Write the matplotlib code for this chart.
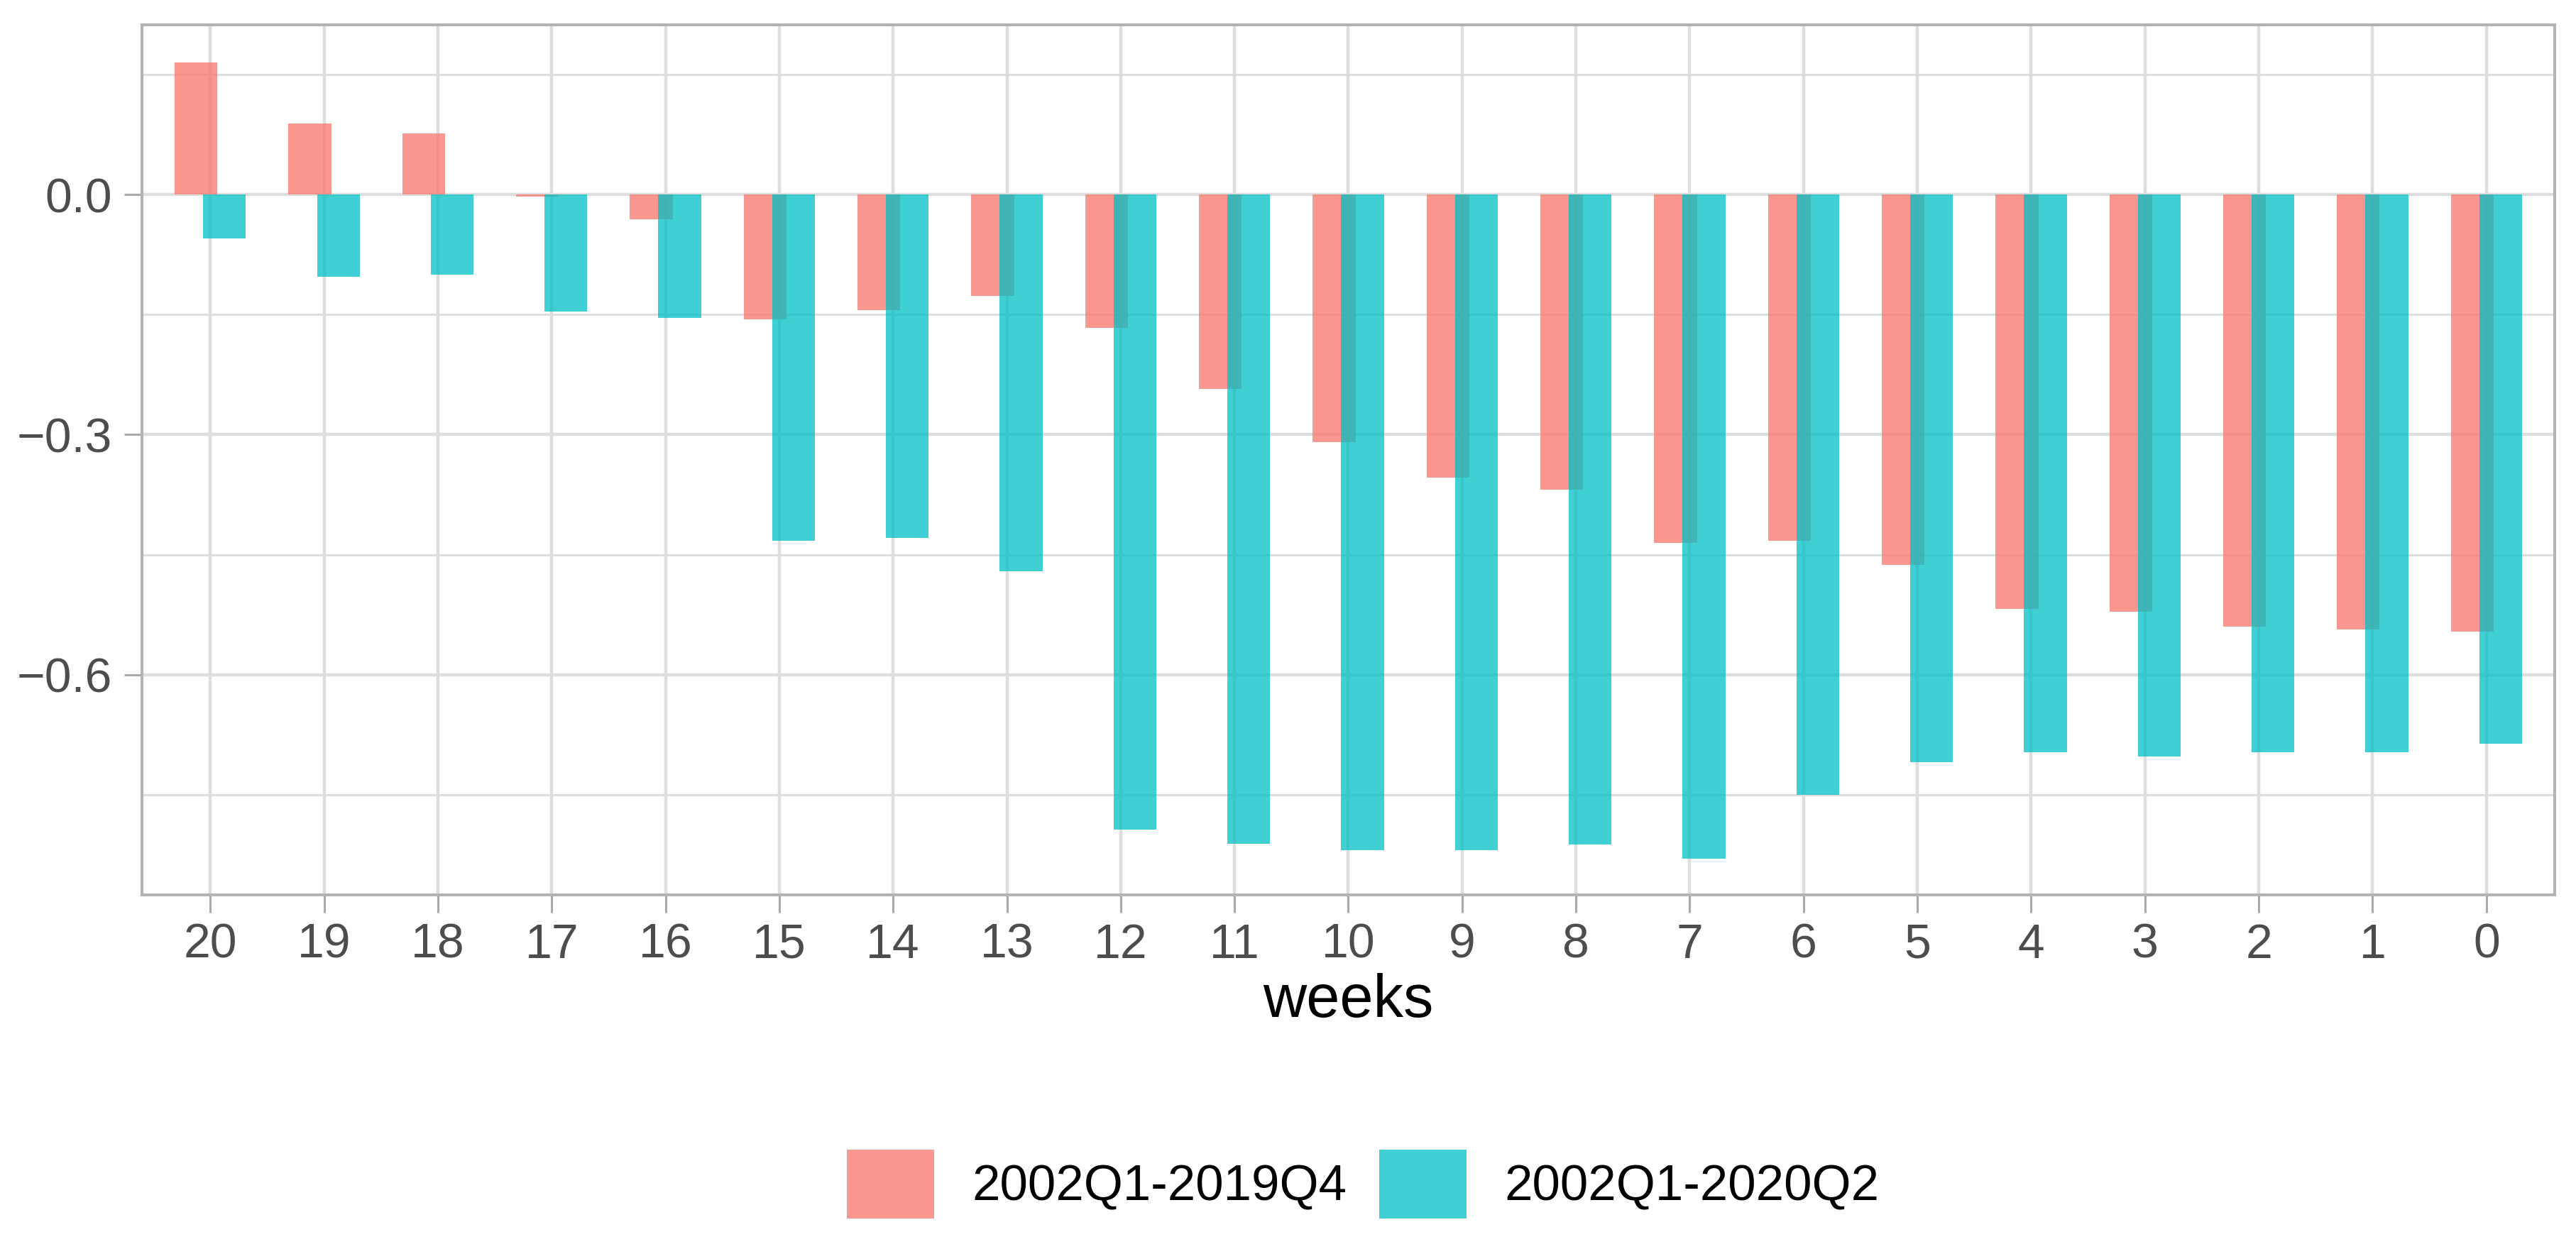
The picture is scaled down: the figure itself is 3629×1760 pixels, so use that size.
import numpy as np
import matplotlib
matplotlib.use("Agg")
import matplotlib.pyplot as plt
from matplotlib.patches import Patch

plt.rcParams['font.family'] = ['Liberation Sans', 'DejaVu Sans']

# weeks before the event, shown left to right
weeks = [20, 19, 18, 17, 16, 15, 14, 13, 12, 11, 10, 9, 8, 7, 6, 5, 4, 3, 2, 1, 0]

# estimation sample 2002Q1-2019Q4
pre_covid = [0.165, 0.089, 0.076, -0.003, -0.031, -0.156, -0.144, -0.127, -0.167,
             -0.243, -0.309, -0.354, -0.369, -0.435, -0.433, -0.463, -0.518,
             -0.521, -0.540, -0.543, -0.546]

# estimation sample 2002Q1-2020Q2
with_covid = [-0.055, -0.103, -0.100, -0.146, -0.154, -0.433, -0.429, -0.471,
              -0.793, -0.811, -0.819, -0.819, -0.812, -0.830, -0.750, -0.709,
              -0.697, -0.702, -0.697, -0.697, -0.686]

series_names = ["2002Q1-2019Q4", "2002Q1-2020Q2"]
y_ticks = [0.0, -0.3, -0.6]
y_tick_labels = ["0.0", "\u22120.3", "\u22120.6"]
y_minor = [0.15, -0.15, -0.45, -0.75]

red = "#F8766D"
teal = "#00BFC4"
alpha = 0.75

fig = plt.figure(figsize=(36.3, 17.6), dpi=100)
ax = fig.add_axes([200 / 3630, 1 - 1261 / 1760, 3399 / 3630, 1226 / 1760])

x = np.arange(len(weeks))
width = 0.375
ax.bar(x - 0.125, pre_covid, width=width, color=red, alpha=alpha, linewidth=0)
ax.bar(x + 0.125, with_covid, width=width, color=teal, alpha=alpha, linewidth=0)

ax.set_xlim(-0.6, len(weeks) - 0.4)
ax.set_ylim(-0.875, 0.212)

ax.set_xticks(x)
ax.set_xticklabels([str(w) for w in weeks])
ax.set_yticks(y_ticks)
ax.set_yticklabels(y_tick_labels)
ax.set_yticks(y_minor, minor=True)

grid_col = "#DEDEDE"
ax.set_axisbelow(True)
ax.grid(True, which="major", color=grid_col, linewidth=3.2)
ax.grid(True, which="minor", axis="y", color=grid_col, linewidth=2.2)

for s in ax.spines.values():
    s.set_color("#B3B3B3")
    s.set_linewidth(2.9)
    s.set_zorder(5)

ax.tick_params(axis="both", which="major", labelsize=49, labelcolor="#4D4D4D",
               color="#AAAAAA", width=2.2, length=18)
ax.tick_params(axis="x", pad=10)
ax.tick_params(axis="y", pad=12)
ax.tick_params(which="minor", length=0)

ax.set_xlabel("weeks", fontsize=61, color="black", labelpad=5)

handles = [Patch(facecolor=red, alpha=alpha, linewidth=0),
           Patch(facecolor=teal, alpha=alpha, linewidth=0)]
fig.legend(handles, series_names, loc="center", bbox_to_anchor=(0.529, 0.052),
           ncol=2, frameon=False, fontsize=51, handlelength=1.74,
           handleheight=1.74, handletextpad=0.75, columnspacing=0.64)

fig.savefig("out.png", dpi=100, facecolor="white")
